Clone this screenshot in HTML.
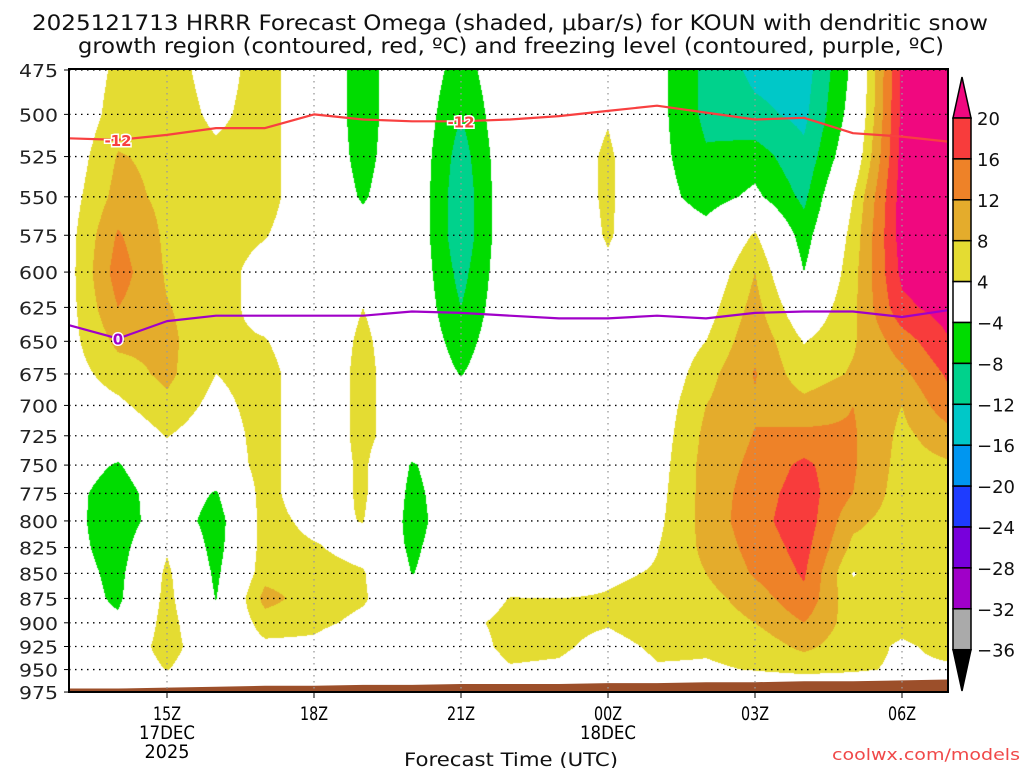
<!DOCTYPE html>
<html><head><meta charset="utf-8"><style>
html,body{margin:0;padding:0;background:#fff;width:1024px;height:768px;overflow:hidden}
#wrap{position:relative;width:1024px;height:768px}
canvas{position:absolute;left:69px;top:69px}
svg{position:absolute;left:0;top:0}
text{font-family:"DejaVu Sans","Liberation Sans",sans-serif}
</style></head><body>
<div id="wrap">
<canvas id="field" width="880" height="623"></canvas>
<svg id="svg" width="1024" height="768"></svg>
</div>
<script>
// ---- data ----
const hours = ["13Z","14Z","15Z","16Z","17Z","18Z","19Z","20Z","21Z","22Z","23Z","00Z","01Z","02Z","03Z","04Z","05Z","06Z","07Z"];
const levels = [475,500,525,550,575,600,625,650,675,700,725,750,775,800,825,850,875,900,925,950,975];
// omega columns (one per hour, values top->bottom by level), microbar/s
const omega = [
 [0,0,1,2,2.5,2.5,2.5,2.5,2,1,0,-1,-2,-2,-2,-1.5,-1,0,0,0,0],
 [5,6,8.3,9.5,12.5,14,12,9,6,3,0,-4.5,-7,-7.5,-6.5,-5.5,-5,-3,0,0,0],
 [6,6.5,7,7,7.2,7.5,8.2,9,9,7,4.2,2,0,0,3.5,5,5.5,6,6,4.2,0],
 [2,3,5,6,6,6,6,5,4,2.5,1,0,-4.5,-6.5,-6,-5,-4.2,-2,0,0,0],
 [6,6,6,6,4.3,2,2,4.3,6,6,6,6,6,6,6,6.5,9.5,6,3,0,0],
 [0,0,0,0,0,0,0,0,0,0,0,0,0,2.5,4.5,6,6,5,3,0,0],
 [-6,-6,-5.5,-4.5,-2,0,4,5,5.5,5.5,5.5,5,5,4.2,2,4.5,4.5,3,0,0,0],
 [0,0,0,0,0,0,0,0,0,0,0,-4.5,-5.5,-6,-5,-4.2,0,0,0,0,0],
 [-6,-8,-10,-11,-11,-9.5,-8,-6,-4.2,-2,0,0,0,0,0,0,0,2.5,1,0,0],
 [0,0,0,0,0,0,0,0,0,0,0,0,0,0,0,0,4.2,5.5,5.5,3.5,0],
 [0,0,0,0,0,0,0,0,0,0,0,0,0,0,0,0,4,5.5,5,3,0],
 [0,3.5,5,5,4.5,3,0,0,0,0,0,0,0,0,0,3,4.5,4.5,2,0,0],
 [-2.5,-2.5,-2.5,-2,0,0,0,0,0,1,1.5,2,2.5,3,3.8,4.5,6,7,5,3.5,0],
 [-9,-9,-7.5,-6,-2,0,2,4,6.5,8,9,9.5,9.5,9.5,9,8,6.5,5.5,4.5,3.5,0],
 [-13,-11,-6,-3,4.5,8,9.5,11,12.3,11.5,12.2,13,14,14.5,13.5,12.5,10,8,5.5,4.2,0],
 [-14,-13,-11,-9,-6,-4,0,3.8,5.5,9.5,13,17,18,18.5,17.5,16.5,15,12,9,5,0],
 [-3,-2,0,4,5.5,6.5,7,7.5,8.5,12,12.5,12.5,12,9,7,3.8,5,6,5.5,4.5,0],
 [21,21,21.5,22,22,21,19,14,11,8,7,6.5,6,6,6,6,6,5,3.5,3.5,0],
 [24,24,24,24,24,23,22,20,17,15,10.5,7.5,6,6,6,6,6,6,5,3.5,0]
];
const dgzPres = [514,515,512,508,508,500,503,504,504,503,501,498,495,499,503,502,511,513,516];
const frzPres = [638,648,635,631,631,631,631,628,629,631,633,633,631,633,629,628,628,632,627];
const sfcPres = [971,971,970,969,968,968,967,967,966,966,966,965,965,964,964,963,963,962,961];
const cbLevels = [20,16,12,8,4,-4,-8,-12,-16,-20,-24,-28,-32,-36];
const cbColors = ["#f0087f","#f83c3c","#ee8228","#e4ac2c","#e4dc32","#ffffff","#00dc00","#00d28c","#00c8c8","#0096f0","#1e3cff","#7800dc","#a000c8","#aaaaaa","#000000"];
const xTicks = [{h:2,a:"15Z",b:"17DEC",c:"2025"},{h:5,a:"18Z"},{h:8,a:"21Z"},{h:11,a:"00Z",b:"18DEC"},{h:14,a:"03Z"},{h:17,a:"06Z"}];

// ---- axes ----
const X0=69, X1=948, Y0=69, Y1=692;
const PX=49;
function xOf(h){return X0+h*PX;}
const LB=865;
function yOf(p){return 70+LB*Math.log(p/475);}
function pOf(y){return 475*Math.exp((y-70)/LB);}
function colorFor(v){
  if(v>=20) return cbColors[0];
  if(v>=16) return cbColors[1];
  if(v>=12) return cbColors[2];
  if(v>=8) return cbColors[3];
  if(v>=4) return cbColors[4];
  if(v>=-4) return cbColors[5];
  if(v>=-8) return cbColors[6];
  if(v>=-12) return cbColors[7];
  if(v>=-16) return cbColors[8];
  if(v>=-20) return cbColors[9];
  if(v>=-24) return cbColors[10];
  if(v>=-28) return cbColors[11];
  if(v>=-32) return cbColors[12];
  if(v>=-36) return cbColors[13];
  return cbColors[14];
}
function hexRGB(h){return [parseInt(h.substr(1,2),16),parseInt(h.substr(3,2),16),parseInt(h.substr(5,2),16)];}
function sample(h,p){
  let i=Math.floor(h); if(i<0)i=0; if(i>omega.length-2)i=omega.length-2;
  let fx=h-i; if(fx>1)fx=1; if(fx<0)fx=0;
  let pf=(p-levels[0])/25; let k=Math.floor(pf); if(k<0)k=0; if(k>levels.length-2)k=levels.length-2;
  let fy=pf-k; if(fy>1)fy=1; if(fy<0)fy=0;
  const a=omega[i][k],b=omega[i+1][k],c=omega[i][k+1],d=omega[i+1][k+1];
  return a*(1-fx)*(1-fy)+b*fx*(1-fy)+c*(1-fx)*fy+d*fx*fy;
}
// ---- draw field ----
const cv=document.getElementById('field'); const ctx=cv.getContext('2d');
const W=cv.width,H=cv.height; const img=ctx.createImageData(W,H);
for(let yy=0;yy<H;yy++){
  const p=pOf(Y0+yy+0.5);
  for(let xx=0;xx<W;xx++){
    const h=(xx+0.5)/PX;
    const rgb=hexRGB(colorFor(sample(h,p)));
    const o=(yy*W+xx)*4; img.data[o]=rgb[0];img.data[o+1]=rgb[1];img.data[o+2]=rgb[2];img.data[o+3]=255;
  }
}
ctx.putImageData(img,0,0);

// ---- SVG overlay ----
const NS="http://www.w3.org/2000/svg"; const svg=document.getElementById('svg');
function mk(tag,attrs,parent){const e=document.createElementNS(NS,tag);for(const k in attrs)e.setAttribute(k,attrs[k]);(parent||svg).appendChild(e);return e;}
function txt(s,attrs,parent){const e=mk('text',attrs,parent);e.textContent=s;return e;}

// ground
let gp="M"+X0+","+Y1;
sfcPres.forEach((p,i)=>{const x=Math.min(xOf(i),X1);gp+=" L"+x+","+yOf(p).toFixed(1);});
gp+=" L"+X1+","+Y1+" Z";
const ground=mk('path',{d:gp,fill:"#9c4f2a"});



// gridlines
const grid=mk('g',{});


levels.forEach(p=>{const y=yOf(p);mk('line',{x1:X0,x2:X1,y1:y,y2:y,stroke:"#000","stroke-width":1.3,"stroke-dasharray":"1.5,4.5"},grid);});
xTicks.forEach(t=>{const x=xOf(t.h);mk('line',{x1:x,x2:x,y1:Y0,y2:Y1,stroke:"#999","stroke-width":1.3,"stroke-dasharray":"1.5,4.5"},grid);});

// contour lines
function line(arr,color,name){
  let d="";arr.forEach((p,i)=>{d+=(i?" L":"M")+Math.min(xOf(i),X1)+","+yOf(p).toFixed(1);});
  const e=mk('path',{d:d,fill:"none",stroke:color,"stroke-width":2.2,"stroke-linejoin":"round"});
  
  
}
line(dgzPres,"#f84040","dgz-minus12-contour");
line(frzPres,"#a000c8","freezing-level-contour");
function clabel(s,h,p,color,name){
  const x=xOf(h),y=yOf(p);
  const t=txt(s,{x:x,y:y+6,"text-anchor":"middle","font-size":15,"font-weight":"bold",fill:color,stroke:"#fff","stroke-width":3,"paint-order":"stroke"});
  
  
}
clabel("-12",1,dgzPres[1],"#f84040","dgz-label-left");
clabel("-12",8,dgzPres[8],"#f84040","dgz-label-mid");
clabel("0",1,frzPres[1],"#a000c8","freezing-label");

// frame
const fr=mk('rect',{x:X0,y:Y0,width:X1-X0,height:Y1-Y0,fill:"none",stroke:"#000","stroke-width":2});



// y axis labels
const ya=mk('g',{});


levels.forEach(p=>{const y=yOf(p);
  mk('line',{x1:X0-5,x2:X0,y1:y,y2:y,stroke:"#000","stroke-width":1},ya);
  const t=txt(String(p),{x:19,y:y+7,"font-size":18,textLength:39,lengthAdjust:"spacingAndGlyphs",fill:"#222"},ya);
  
  
});
// x axis labels
const xa=mk('g',{});


xTicks.forEach(t=>{const x=xOf(t.h);
  mk('line',{x1:x,x2:x,y1:Y1,y2:Y1+6,stroke:"#000","stroke-width":1},xa);
  const a=txt(t.a,{x:x,y:720,"text-anchor":"middle","font-size":19,textLength:28,lengthAdjust:"spacingAndGlyphs",fill:"#000"},xa);
  
  
  if(t.b){const b=txt(t.b,{x:x,y:739,"text-anchor":"middle","font-size":19,textLength:56,lengthAdjust:"spacingAndGlyphs",fill:"#000"},xa);
    
    }
  if(t.c){const c=txt(t.c,{x:x,y:758,"text-anchor":"middle","font-size":19,textLength:45,lengthAdjust:"spacingAndGlyphs",fill:"#000"},xa);
    
    }
});

// colorbar
const cb=mk('g',{});


const CBX=953,CBW=18,CBT=118,CBS=40.9;
mk('polygon',{points:`${CBX},${CBT} ${CBX+CBW/2},77 ${CBX+CBW},${CBT}`,fill:cbColors[0],stroke:"#000","stroke-width":1.5},cb);
for(let i=1;i<cbColors.length-1;i++){
  const r=mk('rect',{x:CBX,y:CBT+(i-1)*CBS,width:CBW,height:CBS,fill:cbColors[i],stroke:"#000","stroke-width":1.5},cb);
  
  
}
const cbB=CBT+(cbColors.length-2)*CBS;
mk('polygon',{points:`${CBX},${cbB} ${CBX+CBW/2},691 ${CBX+CBW},${cbB}`,fill:"#000",stroke:"#000","stroke-width":1.5},cb);
cbLevels.forEach((v,i)=>{
  const t=txt(v<0?"\u2212"+(-v):String(v),{x:977,y:CBT+i*CBS+7,"font-size":18,fill:"#111"},cb);
  
  
});

// titles
const t1=txt("2025121713 HRRR Forecast Omega (shaded, \u03bcbar/s) for KOUN with dendritic snow",{x:32,y:30,"font-size":21,textLength:956,lengthAdjust:"spacingAndGlyphs",fill:"#111"});


const t2=txt("growth region (contoured, red, \u00baC) and freezing level (contoured, purple, \u00baC)",{x:78,y:53,"font-size":21,textLength:866,lengthAdjust:"spacingAndGlyphs",fill:"#111"});


const xt=txt("Forecast Time (UTC)",{x:404,y:766,"font-size":19,textLength:214,lengthAdjust:"spacingAndGlyphs",fill:"#111"});


const cr=txt("coolwx.com/models",{x:832,y:760,"font-size":16,textLength:188,lengthAdjust:"spacingAndGlyphs",fill:"#f04848"});


</script>
</body></html>
